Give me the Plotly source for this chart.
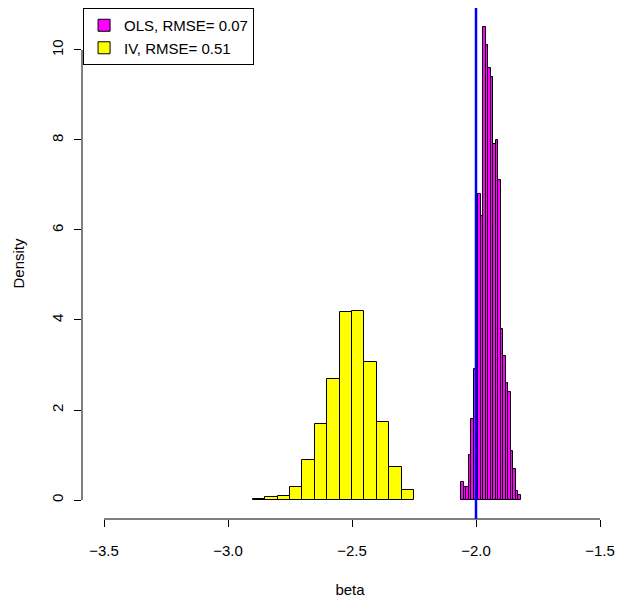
import plotly.graph_objects as go

# ---- data ----
ols_mids = [-2.055, -2.045, -2.035, -2.025, -2.015, -2.005, -1.995, -1.985,
            -1.975, -1.965, -1.955, -1.945, -1.935, -1.925, -1.915, -1.905,
            -1.895, -1.885, -1.875, -1.865, -1.855, -1.845, -1.835, -1.825]
ols_density = [0.40, 0.29, 0.29, 1.00, 1.80, 2.91, 3.52, 6.80,
               6.31, 10.52, 10.10, 9.60, 9.41, 7.91, 8.00, 7.10,
               3.80, 3.20, 2.61, 2.40, 1.10, 0.70, 0.21, 0.11]
ols_binwidth = 0.01

iv_mids = [-2.875, -2.825, -2.775, -2.725, -2.675, -2.625, -2.575,
           -2.525, -2.475, -2.425, -2.375, -2.325, -2.275]
iv_density = [0.03, 0.06, 0.09, 0.28, 0.89, 1.69, 2.69,
              4.17, 4.21, 3.07, 1.73, 0.73, 0.23]
iv_binwidth = 0.05

true_beta = -2.0
x_tickvals = [-3.5, -3.0, -2.5, -2.0, -1.5]
x_ticktext = ["\u22123.5", "\u22123.0", "\u22122.5", "\u22122.0", "\u22121.5"]
y_tickvals = [0, 2, 4, 6, 8, 10]
y_ticktext = ["0", "2", "4", "6", "8", "10"]
ols_label = "OLS, RMSE= 0.07"
iv_label = "IV, RMSE= 0.51"

FONT = "Liberation Sans, Arial, Helvetica, sans-serif"

fig = go.Figure()
fig.add_trace(go.Bar(
    x=ols_mids, y=ols_density, width=ols_binwidth, name=ols_label,
    marker=dict(color="#FF00FF", line=dict(color="black", width=1)),
))
fig.add_trace(go.Bar(
    x=iv_mids, y=iv_density, width=iv_binwidth, name=iv_label,
    marker=dict(color="#FFFF00", line=dict(color="black", width=1)),
))

# axis line segments like R's axis()
fig.add_shape(type="line", xref="x", yref="paper",
              x0=x_tickvals[0], x1=x_tickvals[-1], y0=0, y1=0,
              line=dict(color="black", width=1))
fig.add_shape(type="line", xref="paper", yref="y",
              x0=0, x1=0, y0=y_tickvals[0], y1=y_tickvals[-1],
              line=dict(color="black", width=1))
# true beta line
fig.add_shape(type="line", xref="x", yref="paper",
              x0=true_beta, x1=true_beta, y0=0, y1=1,
              line=dict(color="#0000FF", width=2.5), layer="above")

fig.update_layout(
    width=618, height=598,
    margin=dict(l=82, r=0, t=8, b=79, autoexpand=False),
    plot_bgcolor="white", paper_bgcolor="white",
    font=dict(family=FONT, size=15, color="black"),
    bargap=0,
    showlegend=True,
    legend=dict(
        x=0.002, y=1.0, xanchor="left", yanchor="top",
        bordercolor="black", borderwidth=1, bgcolor="white",
        font=dict(family=FONT, size=15, color="black"),
        traceorder="normal", itemwidth=30,
    ),
    xaxis=dict(
        range=[-3.5887, -1.4274], tickvals=x_tickvals, ticktext=x_ticktext,
        showgrid=False, zeroline=False, showline=False, automargin=False,
        ticks="outside", ticklen=7, tickwidth=1, tickcolor="black",
        ticklabelstandoff=11,
        title=dict(text="beta", standoff=27, font=dict(size=15)),
    ),
    yaxis=dict(
        range=[-0.4222, 10.933], tickvals=y_tickvals, ticktext=y_ticktext,
        showgrid=False, zeroline=False, showline=False, automargin=False,
        ticks="outside", ticklen=7, tickwidth=1, tickcolor="black",
        tickangle=-90, ticklabelstandoff=5,
        title=dict(text="Density", standoff=20, font=dict(size=15)),
    ),
)

fig.write_html("out.html",
               config={"displayModeBar": False},
               post_script="document.body.style.margin='0';document.body.style.overflow='hidden';")
